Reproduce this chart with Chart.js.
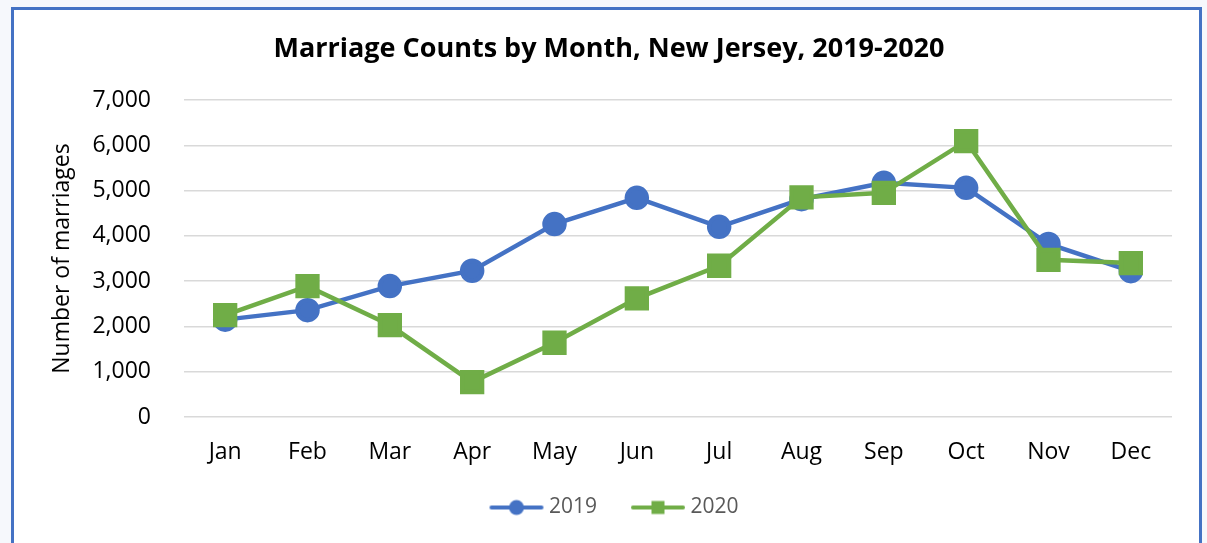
<!DOCTYPE html>
<html>
<head>
<meta charset="utf-8">
<script src="https://cdn.jsdelivr.net/npm/chart.js@4.4.1/dist/chart.umd.min.js"></script>
<style>
  html, body { margin: 0; padding: 0; background: #f6f8fc; overflow: hidden; }
  #frame { position: absolute; left: 11px; top: 7px; width: 1185px; height: 560px; border: 3px solid #4472C4; background: #ffffff; }
  #wrap { position: absolute; left: 0; top: 0; width: 1207px; height: 543px; }
</style>
</head>
<body>
<div id="frame"></div>
<div id="wrap"><canvas id="c" width="1207" height="543"></canvas></div>
<script>
const months = ['Jan','Feb','Mar','Apr','May','Jun','Jul','Aug','Sep','Oct','Nov','Dec'];
const series2019 = [2150, 2360, 2890, 3230, 4260, 4840, 4200, 4810, 5170, 5060, 3820, 3220];
const series2020 = [2250, 2890, 2030, 770, 1640, 2620, 3340, 4850, 4950, 6090, 3470, 3400];
const yTicks = [0, 1000, 2000, 3000, 4000, 5000, 6000, 7000];
const titleText = 'Marriage Counts by Month, New Jersey, 2019-2020';
const yTitle = 'Number of marriages';

const BLUE = '#4472C4';
const GREEN = '#70AD47';
const FONT = "'Open Sans', 'Liberation Sans', sans-serif";

// legend icon: line with marker, placed at the right of a wider transparent canvas
function legendIcon(color, style) {
  const c = document.createElement('canvas');
  c.width = 71; c.height = 20;
  const g = c.getContext('2d');
  const x0 = 15;
  g.strokeStyle = color; g.lineWidth = 4; g.lineCap = 'round';
  g.beginPath(); g.moveTo(x0 + 3, 10); g.lineTo(x0 + 53, 10); g.stroke();
  g.fillStyle = color;
  if (style === 'circle') { g.beginPath(); g.arc(x0 + 28, 10, 7.5, 0, Math.PI * 2); g.fill(); }
  else { g.fillRect(x0 + 21.5, 3.5, 13, 13); }
  return c;
}
const icons = [legendIcon(BLUE, 'circle'), legendIcon(GREEN, 'rect')];

new Chart(document.getElementById('c'), {
  type: 'line',
  data: {
    labels: months,
    datasets: [
      { label: '2019', data: series2019, borderColor: BLUE, backgroundColor: BLUE, borderWidth: 4.5,
        pointStyle: 'circle', pointRadius: 10, pointHoverRadius: 10, tension: 0, order: 1 },
      { label: '2020', data: series2020, borderColor: GREEN, backgroundColor: GREEN, borderWidth: 4.5,
        pointStyle: 'rect', pointRadius: 14, pointHoverRadius: 14, tension: 0, order: 0 }
    ]
  },
  options: {
    responsive: false,
    animation: false,
    layout: { padding: { left: 46, right: 35, top: 33, bottom: 15 } },
    plugins: {
      title: { display: true, text: titleText, color: '#000',
        font: { family: FONT, size: 27, weight: 'bold' }, padding: { top: 0, bottom: 34.6 } },
      legend: { position: 'bottom',
        labels: { usePointStyle: true, pointStyleWidth: 59, padding: 24, color: '#595959',
          font: { family: FONT, size: 21 },
          generateLabels: (chart) => chart.data.datasets.map((ds, i) => ({
            text: ds.label, pointStyle: icons[i], fillStyle: ds.borderColor, strokeStyle: ds.borderColor,
            lineWidth: 0, hidden: false, datasetIndex: i, fontColor: '#595959' })) } },
      tooltip: { enabled: false }
    },
    scales: {
      x: { offset: true,
        grid: { display: false, drawTicks: false },
        border: { display: false },
        ticks: { color: '#000', padding: 22, font: { family: FONT, size: 23 } },
        afterFit: (s) => { s.height = 56; } },
      y: { min: 0, max: 7000,
        afterBuildTicks: (s) => { s.ticks = yTicks.map(v => ({ value: v })); },
        grid: { color: '#d9d9d9', lineWidth: 1.5, drawTicks: false },
        border: { display: false },
        ticks: { color: '#000', padding: 33, font: { family: FONT, size: 23 },
          callback: (v) => Number(v).toLocaleString('en-US') },
        title: { display: true, text: yTitle, color: '#000', font: { family: FONT, size: 23 },
          padding: { top: 3, bottom: 0 } },
        afterFit: (s) => { s.width = 138; } }
    }
  }
});
</script>
</body>
</html>
